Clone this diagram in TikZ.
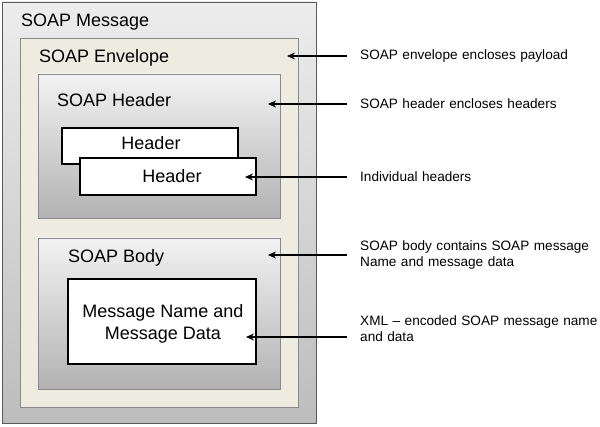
\documentclass[tikz,border=0pt]{standalone}
\usepackage{fontspec}
\setmainfont{Liberation Sans}
\usetikzlibrary{arrows.meta}
\definecolor{envfill}{HTML}{EEECE1}
\definecolor{boxline}{HTML}{8A8A8A}
\newcommand\mynotefont{\fontsize{13.6}{16}\selectfont\spaceskip=0.33em plus 0.1em minus 0.05em\relax}
\begin{document}
\begin{tikzpicture}[x=1pt,y=-1pt,
  area/.style={anchor=north west, inner sep=0pt, outer sep=0pt, draw=boxline, line width=0.9pt},
  whitebox/.style={anchor=north west, inner sep=0pt, outer sep=0pt, draw=black, line width=1.3pt, fill=white},
  title/.style={anchor=west, inner sep=0pt, font=\fontsize{18}{22}\selectfont},
  note/.style={anchor=west, inner sep=0pt, align=left, font=\mynotefont},
  pointer/.style={-{Stealth[length=8pt,width=7pt]}, line width=1.4pt, black}
]
\useasboundingbox (0,0) rectangle (600,427);

% boxes
\node[area, draw=gray!70!black, top color=black!7, bottom color=black!26, minimum width=314pt, minimum height=421pt] (msg) at (2,2) {};
\node[area, fill=envfill, minimum width=278pt, minimum height=369pt] (env) at (20,38) {};
\node[area, top color=black!5, bottom color=black!30, minimum width=242pt, minimum height=144pt] (hdr) at (38,74) {};
\node[area, top color=black!5, bottom color=black!30, minimum width=242pt, minimum height=151pt] (body) at (38,238) {};
\node[whitebox, minimum width=176pt, minimum height=36pt] (h1) at (62,128) {};
\node[whitebox, minimum width=176pt, minimum height=37pt] (h2) at (80,158) {};
\node[whitebox, minimum width=188pt, minimum height=85pt] (data) at (68,279) {};

% titles
\node[title] (tmsg) at (21,22) {SOAP Message};
\node[title] (tenv) at (39,58) {SOAP Envelope};
\node[title] (thdr) at (57,100) {SOAP Header};
\node[title] (tbody) at (68,258) {SOAP Body};
\node[title, anchor=center] (th1) at (151,143) {Header};
\node[title, anchor=center] (th2) at (172,176) {Header};
\node[title, anchor=center, align=center] (tdata) at (163,324) {Message Name and\\Message Data};

% notes
\node[note] (n1) at (360,56) {SOAP envelope encloses payload};
\node[note] (n2) at (360,104) {SOAP header encloses headers};
\node[note] (n3) at (360,177) {Individual headers};
\node[note] (n4) at (360,255) {SOAP body contains SOAP message\\Name and message data};
\node[note] (n5) at (360,329) {XML -- encoded SOAP message name\\and data};

% arrow ends
\coordinate (e1) at (287,56);
\coordinate (e2) at (268,104);
\coordinate (e3) at (245,177);
\coordinate (e4) at (268,255);
\coordinate (e5) at (246,337);

\draw[pointer] ([xshift=-13pt]n1.west) -- (e1);
\draw[pointer] ([xshift=-13pt]n2.west) -- (e2);
\draw[pointer] ([xshift=-13pt]n3.west) -- (e3);
\draw[pointer] ([xshift=-13pt]n4.west) -- (e4);
\draw[pointer] ([xshift=-13pt,yshift=-8pt]n5.west) -- (e5);
\end{tikzpicture}
\end{document}
